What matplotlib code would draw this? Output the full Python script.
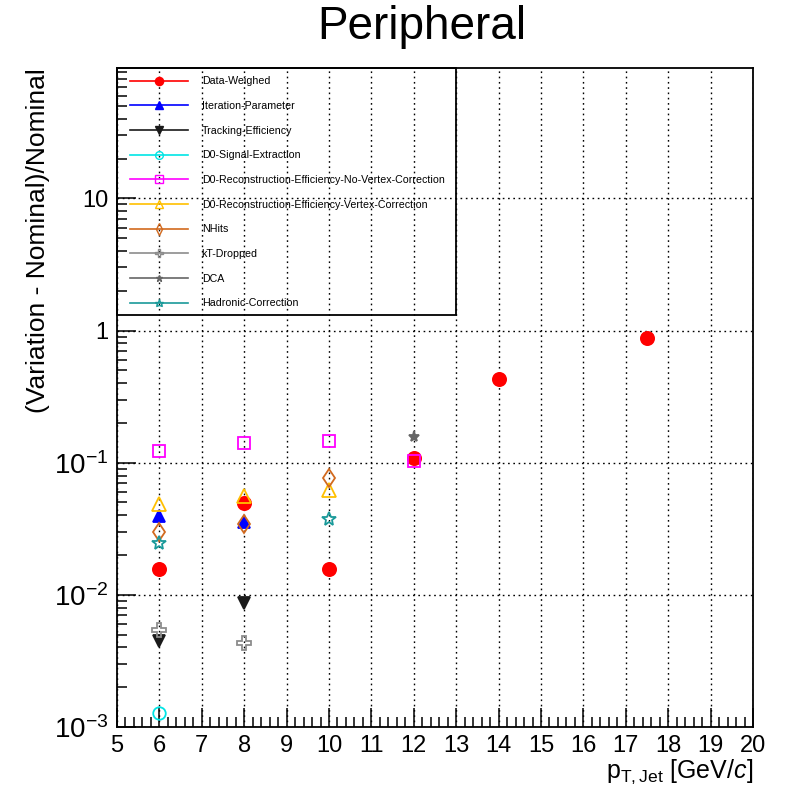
import matplotlib
matplotlib.use("Agg")
import matplotlib.pyplot as plt
from matplotlib.lines import Line2D
from matplotlib.patches import Rectangle
from matplotlib.ticker import FixedLocator, MultipleLocator, LogLocator, NullFormatter

plt.rcParams['font.family'] = ['Liberation Sans', 'DejaVu Sans']
plt.rcParams['mathtext.fontset'] = 'custom'
plt.rcParams['mathtext.rm'] = 'Liberation Sans'
plt.rcParams['mathtext.it'] = 'Liberation Sans:italic'
plt.rcParams['mathtext.bf'] = 'Liberation Sans:bold'
plt.rcParams['mathtext.default'] = 'regular'

# ---------------- data ----------------
names = ["Data-Weighed", "Iteration-Parameter", "Tracking-Efficiency",
         "D0-Signal-Extraction", "D0-Reconstruction-Efficiency-No-Vertex-Correction",
         "D0-Reconstruction-Efficiency-Vertex-Correction", "NHits", "kT-Dropped",
         "DCA", "Hadronic-Correction"]

data_weighed_x = [6, 8, 10, 12, 14, 17.5]
data_weighed_y = [0.0157, 0.0498, 0.0157, 0.109, 0.433, 0.885]

iteration_x = [6, 8]
iteration_y = [0.0397, 0.0357]

tracking_x = [6, 8]
tracking_y = [0.0045, 0.0087]

signal_x = [6]
signal_y = [0.00128]

reco_novtx_x = [6, 8, 10, 12]
reco_novtx_y = [0.123, 0.142, 0.146, 0.1035]

reco_vtx_x = [6, 8, 10]
reco_vtx_y = [0.0485, 0.056, 0.062]

nhits_x = [6, 8, 10]
nhits_y = [0.030, 0.0345, 0.077]

kt_x = [6, 8]
kt_y = [0.0054, 0.0043]

dca_x = [12]
dca_y = [0.157]

hadronic_x = [6, 10]
hadronic_y = [0.0248, 0.0377]

series_x = [data_weighed_x, iteration_x, tracking_x, signal_x, reco_novtx_x,
            reco_vtx_x, nhits_x, kt_x, dca_x, hadronic_x]
series_y = [data_weighed_y, iteration_y, tracking_y, signal_y, reco_novtx_y,
            reco_vtx_y, nhits_y, kt_y, dca_y, hadronic_y]

x_ticks = list(range(5, 21))
y_ticks = [1e-3, 1e-2, 1e-1, 1, 10]
y_ticklabels = [r"$10^{-3}$", r"$10^{-2}$", r"$10^{-1}$", "1", "10"]

# ---------------- styles ----------------
colors = ["#ff0000", "#0000ff", "#1a1a1a", "#00e5e5", "#ff00ff",
          "#ffc000", "#d2691e", "#8c8c8c", "#666666", "#1a9a9a"]
markers = ["o", "^", "v", "o", "s", "^", "d", "P", "*", "*"]
filled = [True, True, True, False, False, False, False, False, True, False]
msizes = [9.5, 8.5, 8.5, 9.0, 9.0, 9.5, 9.5, 9.5, 8.0, 10.0]

fig = plt.figure(figsize=(7.94, 7.93), dpi=100)
ax = fig.add_axes([117/794, 1 - 727/793, 636/794, 659/793])

for x, y, c, m, f, s in zip(series_x, series_y, colors, markers, filled, msizes):
    ax.plot(x, y, linestyle="none", marker=m, ms=s,
            mfc=c if f else "none", mec=c, mew=1.3, zorder=3, clip_on=False)

ax.set_yscale("log")
ax.set_xlim(5, 20)
ax.set_ylim(1e-3, 97)

ax.xaxis.set_major_locator(FixedLocator(x_ticks))
ax.xaxis.set_minor_locator(MultipleLocator(0.2))
ax.set_xticklabels([str(t) for t in x_ticks])
ax.yaxis.set_major_locator(FixedLocator(y_ticks))
ax.yaxis.set_minor_locator(LogLocator(base=10, subs=range(2, 10)))
ax.yaxis.set_minor_formatter(NullFormatter())
ax.set_yticklabels(y_ticklabels)

ax.tick_params(axis="both", which="both", direction="in", top=False, right=False,
               width=1.1, color="black")
ax.tick_params(axis="both", which="major", length=14, pad=6)
ax.tick_params(axis="both", which="minor", length=7)
ax.tick_params(axis="x", which="major", labelsize=17)
for lab, t in zip(ax.get_yticklabels(), y_ticks):
    lab.set_fontsize(20 if t < 1 else 17)

ax.grid(True, which="major", color="black", linestyle=(0, (1.2, 2.6)), linewidth=1.0)
ax.set_axisbelow(True)
for sp in ax.spines.values():
    sp.set_linewidth(1.3)

# axis labels / title
fig.text(422/794, 1 - 27/793, "Peripheral", ha="center", va="center", fontsize=33)
fig.text(38/794, 1 - 68/793, "(Variation - Nominal)/Nominal", rotation=90,
         ha="center", va="top", fontsize=19)
fig.text(753/794, 1 - 778/793, r"$p_{\mathrm{T,Jet}}$ [GeV/$\mathit{c}$]",
         ha="right", va="baseline", fontsize=18)

# legend
handles = []
for c, m, f, s in zip(colors, markers, filled, msizes):
    handles.append(Line2D([], [], color=c, lw=1.2, marker=m, ms=s * 0.62,
                          mfc=c if f else "none", mec=c, mew=1.0))
leg = ax.legend(handles, names, loc="upper left",
                bbox_to_anchor=(13/636, 1 - 8.5/659), frameon=False,
                fontsize=7.7, handlelength=5.4, handletextpad=1.3,
                labelspacing=1.37, borderpad=0, borderaxespad=0)
ax.add_patch(Rectangle((0, 1 - (315-68)/659), (456-117)/636, (315-68)/659,
                       transform=ax.transAxes, fill=False, edgecolor="black",
                       lw=1.3, zorder=5, clip_on=False))

fig.savefig("out.png", dpi=100)
